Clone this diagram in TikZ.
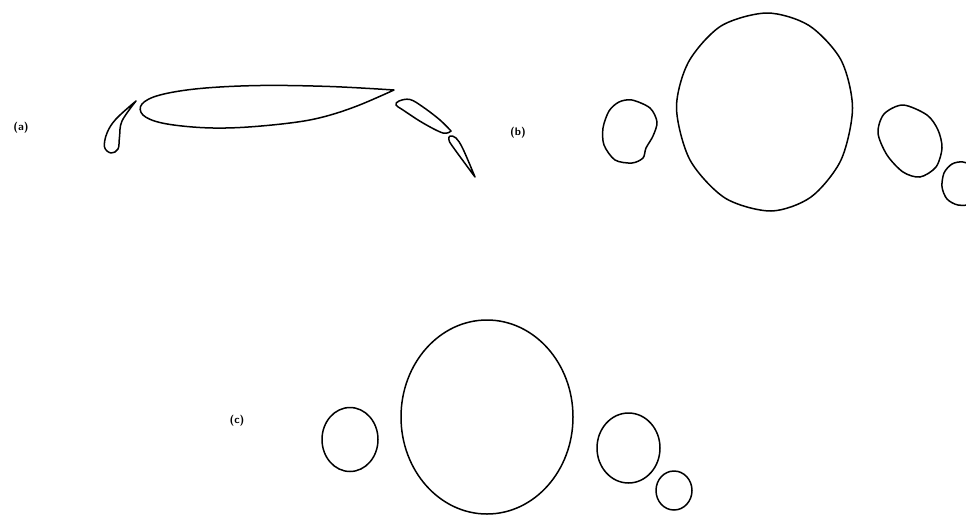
\documentclass[tikz,border=0pt]{standalone}
\begin{document}
\begin{tikzpicture}[x=1pt,y=-1pt,
  outline/.style={line width=1.5pt, line join=round, line cap=round},
  lbl/.style={font=\sffamily\bfseries\fontsize{11}{12}\selectfont, inner sep=0pt}]
\useasboundingbox (0,0) rectangle (966,515);
% ---------- (a) ----------
\node[lbl] (la) at (21,128) {(a)};
% main element
\draw[outline] plot[smooth, tension=0.6] coordinates {(394,90) (330,86.5) (260,85.5) (200,88.5) (160,95) (142,104) (143,115) (162,123) (200,127.5) (240,127.5) (290,123) (323,117) (357,106) (394,90)} -- cycle;
% slat
\draw[outline] plot[smooth, tension=0.6] coordinates {(136,101) (116,119) (107,133) (104.5,147) (111,153) (118,149) (119.5,137) (122,121) (136,101)} -- cycle;
% flap 1
\draw[outline] plot[smooth, tension=0.6] coordinates {(451,131) (440,120) (423,107) (410,99.5) (399,101) (396,105) (403,110) (423,123) (443,133) (451,131)} -- cycle;
% flap 2
\draw[outline] plot[smooth, tension=0.6] coordinates {(475,177) (463,149) (456,138) (450,136) (449,140) (453,147) (475,177)} -- cycle;
% ---------- (b) ----------
\node[lbl] (lb) at (518,133) {(b)};
\draw[outline] plot[smooth cycle] coordinates {(852.5,108) (841,60) (809,25.5) (767,13) (721,26) (688.5,62) (676.5,108) (690,160) (725,198) (771,211) (811,197) (841,160)};
\draw[outline] plot[smooth cycle] coordinates {(632,100) (650,108) (657,122) (653,136) (646,148) (643,158) (632,163) (615,160) (604,145) (603,128) (609,111) (619,102)};
\draw[outline] plot[smooth cycle] coordinates {(903,105) (927,115) (938,130) (942,148) (936,167) (920,177) (903,172) (887,155) (878,133) (884,114)};
\draw[outline] plot[smooth cycle] coordinates {(963,162) (952,164) (944,173) (942,187) (947,199) (958,205) (972,203) (980,185) (975,168)};
% ---------- (c) ----------
\node[lbl] (lc) at (237,421) {(c)};
\draw[outline] (350,439.5) ellipse [x radius=28, y radius=32];
\draw[outline] (487,417) ellipse [x radius=86, y radius=97];
\draw[outline] (628.5,448) ellipse [x radius=31.5, y radius=35];
\draw[outline] (674,490.5) ellipse [x radius=18, y radius=19.5];
\end{tikzpicture}
\end{document}
